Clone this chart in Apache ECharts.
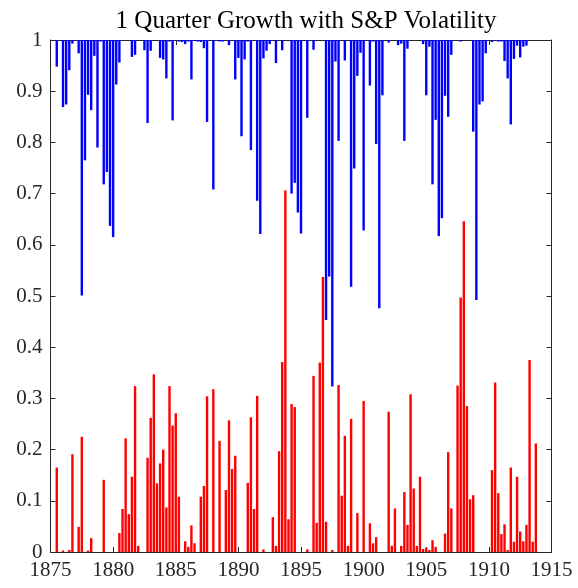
<!DOCTYPE html>
<html><head><meta charset="utf-8">
<script src="https://cdn.jsdelivr.net/npm/echarts@6/dist/echarts.min.js"></script>
<style>html,body{margin:0;padding:0;background:#fff}#c{width:578px;height:588px}</style>
</head><body><div id="c"></div>
<script>
const chartTitle = '1 Quarter Growth with S&P Volatility';
// quarterly observations: first quarter and step (years)
const firstQuarter = 1875.5;
const quarterStep = 0.25;
// blue bars hang from 1 down to these values (null = no bar)
const blueBottom = [
  0.948, null, 0.869, 0.874, 0.941, 0.993, null, 0.974, 0.501, 0.765,
  0.893, 0.863, 0.969, 0.790, 0.997, 0.718, 0.742, 0.637, 0.615, 0.913,
  0.956, null, null, null, 0.967, 0.971, null, null, 0.980, 0.838,
  0.979, null, null, 0.965, 0.962, 0.925, 0.997, 0.843, null, 0.997,
  0.996, 0.992, 0.997, 0.923, 0.998, 0.997, 0.996, 0.984, 0.840, null,
  0.708, null, 0.997, 0.997, null, 0.990, null, 0.923, 0.965, 0.812,
  0.962, 0.997, 0.785, null, 0.686, 0.621, 0.964, 0.979, 0.992, null,
  0.955, null, 0.980, null, null, 0.700, 0.721, 0.663, 0.622, null,
  0.848, null, 0.981, null, null, null, 0.453, 0.538, 0.323, 0.958,
  0.803, null, 0.960, null, 0.518, 0.749, 0.930, 0.975, 0.628, null,
  0.911, 0.997, 0.797, 0.476, 0.892, null, 0.995, null, null, 0.990,
  0.993, 0.803, 0.983, null, null, null, null, 0.992, 0.892, 0.987,
  0.718, 0.844, 0.617, 0.652, 0.891, 0.850, 0.971, null, null, 0.997,
  null, null, null, 0.821, 0.492, 0.874, 0.880, 0.974, null, 0.996,
  null, 0.997, 0.997, 0.959, 0.925, 0.835, 0.963, 0.989, 0.966, 0.987,
  0.989, null, null, null
];
// red bars rise from 0
const redValues = [
  0.165, 0, 0.003, 0, 0.004, 0.191, 0, 0.049, 0.225, 0,
  0.003, 0.027, 0, 0, 0, 0.141, 0, 0, 0, 0,
  0.037, 0.084, 0.222, 0.074, 0.147, 0.324, 0.012, 0, 0, 0.184,
  0.262, 0.347, 0.134, 0.173, 0.200, 0.087, 0.324, 0.247, 0.271, 0.108,
  0, 0.021, 0.010, 0.052, 0.017, 0, 0.108, 0.129, 0.304, 0,
  0.318, 0, 0.217, 0, 0.121, 0.257, 0.162, 0.188, 0, 0,
  0, 0.135, 0.263, 0.084, 0.305, 0, 0.005, 0, 0, 0.068,
  0.012, 0.197, 0.371, 0.706, 0.064, 0.289, 0.283, 0, 0, 0,
  0.005, 0, 0.344, 0.057, 0.370, 0.537, 0.059, 0, 0.004, 0,
  0.326, 0.110, 0.227, 0.012, 0.260, 0, 0.076, 0, 0.295, 0,
  0.056, 0.017, 0.029, 0, 0, 0, 0.274, 0.012, 0.085, 0,
  0.012, 0.117, 0.053, 0.308, 0.124, 0.012, 0.147, 0.006, 0.008, 0.004,
  0.023, 0.010, 0, 0, 0.036, 0.195, 0.085, 0, 0.325, 0.497,
  0.646, 0.285, 0.103, 0.111, 0, 0, 0, 0, 0, 0.160,
  0.331, 0.115, 0.035, 0.054, 0.004, 0.165, 0.020, 0.147, 0.040, 0.021,
  0.053, 0.375, 0.020, 0.212
];
const xTickYears = [1875, 1880, 1885, 1890, 1895, 1900, 1905, 1910, 1915];
const yTickValues = [0, 0.1, 0.2, 0.3, 0.4, 0.5, 0.6, 0.7, 0.8, 0.9, 1];

const quarters = redValues.map((_, i) => firstQuarter + i * quarterStep);
const redData = [];
const blueData = [];
quarters.forEach((q, i) => {
  if (redValues[i] > 0) redData.push([q, redValues[i]]);
  if (blueBottom[i] != null) blueData.push([q, 1 - blueBottom[i]]);
});

const font = "'Liberation Serif','Times New Roman',serif";
const axisColor = '#262626';
const xMin = xTickYears[0], xMax = xTickYears[xTickYears.length - 1];
const xInt = xTickYears[1] - xTickYears[0];
const yMin = yTickValues[0], yMax = yTickValues[yTickValues.length - 1];
const yInt = 0.1;

function xAx(pos, showLabel) {
  return {
    type: 'value', position: pos, min: xMin, max: xMax, interval: xInt,
    axisLine: { show: true, onZero: false, lineStyle: { color: axisColor, width: 1 } },
    axisTick: { show: true, inside: true, length: 5, lineStyle: { color: axisColor } },
    splitLine: { show: false },
    axisLabel: { show: showLabel, color: axisColor, fontFamily: font, fontSize: 21, margin: 8,
      formatter: v => String(v) }
  };
}
function yAx(pos, showLabel, inverse) {
  return {
    type: 'value', position: pos, min: yMin, max: yMax, interval: yInt, inverse: inverse,
    axisLine: { show: true, onZero: false, lineStyle: { color: axisColor, width: 1 } },
    axisTick: { show: true, inside: true, length: 5, lineStyle: { color: axisColor } },
    splitLine: { show: false },
    axisLabel: { show: showLabel, color: axisColor, fontFamily: font, fontSize: 21, margin: 8,
      formatter: v => String(Math.round(v * 10) / 10) }
  };
}

const chart = echarts.init(document.getElementById('c'), null, { renderer: 'canvas' });
chart.setOption({
  animation: false,
  backgroundColor: '#ffffff',
  title: {
    text: chartTitle, left: 301, top: 4, textAlign: 'center',
    textStyle: { fontFamily: font, fontSize: 25, fontWeight: 'normal', color: '#000000' }
  },
  grid: { left: 50.5, right: 26.5, top: 40, bottom: 36, containLabel: false },
  xAxis: [xAx('bottom', true), xAx('top', false)],
  yAxis: [yAx('left', true, false), yAx('right', false, true)],
  series: [
    { type: 'bar', name: 'growth', xAxisIndex: 0, yAxisIndex: 0, data: redData,
      barWidth: 2.4, barGap: '-100%', itemStyle: { color: '#ff0000' } },
    { type: 'bar', name: 'volatility', xAxisIndex: 0, yAxisIndex: 1, data: blueData,
      barWidth: 2.4, barGap: '-100%', itemStyle: { color: '#0000ff' } }
  ]
});
</script>
</body></html>
